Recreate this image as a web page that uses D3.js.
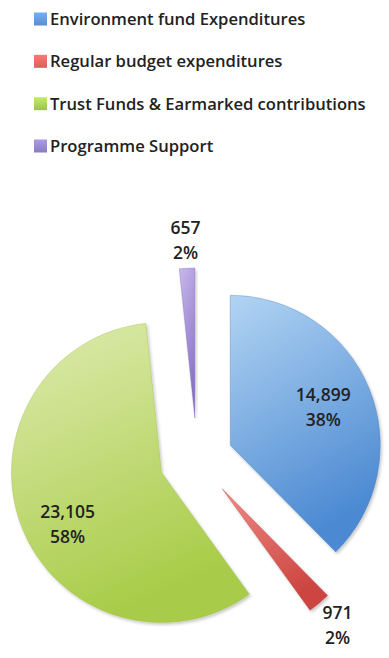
<!DOCTYPE html>
<html>
<head>
<meta charset="utf-8">
<script src="https://cdn.jsdelivr.net/npm/d3@7"></script>
<style>
  html, body { margin: 0; padding: 0; background: #ffffff; }
  svg { display: block; }
  text { font-family: "Open Sans", "Noto Sans", sans-serif; fill: #222222; font-weight: 600; }
</style>
</head>
<body>
<svg id="chart" width="389" height="658"></svg>
<script>
// Expenditure breakdown (thousands)
const categories = [
  "Environment fund Expenditures",
  "Regular budget expenditures",
  "Trust Funds & Earmarked contributions",
  "Programme Support"
];
const values = [14899, 971, 23105, 657];

// Fill palettes: [light, dark] per category
const palette = [
  ["#b2d4f3", "#4c8ad2"],
  ["#f08a86", "#cc4440"],
  ["#dfebb0", "#a8cc48"],
  ["#c8b8ec", "#8a72c8"]
];
const legendColors = ["#5b8dcb", "#d9605c", "#9cc152", "#8a7cc0"];

// Layout settings
const W = 389, H = 658;
const cx = 197, cy = 459, R = 150;
const explode = [36, 39, 38, 41];       // slice pull-out distance
const labelInside = [true, false, true, false];
const labelNudge = [[0, 0], [0, 0], [0, 16], [0, 0]];

const svg = d3.select("#chart");
const defs = svg.append("defs");

palette.forEach((p, i) => {
  const g = defs.append("linearGradient")
    .attr("id", "fill" + i)
    .attr("x1", "0").attr("y1", "0").attr("x2", "0.35").attr("y2", "1");
  g.append("stop").attr("offset", "0%").attr("stop-color", p[0]);
  g.append("stop").attr("offset", "100%").attr("stop-color", p[1]);

  const lg = defs.append("linearGradient")
    .attr("id", "leg" + i)
    .attr("x1", "0").attr("y1", "0").attr("x2", "0").attr("y2", "1");
  lg.append("stop").attr("offset", "0%").attr("stop-color", d3.color(legendColors[i]).brighter(0.6));
  lg.append("stop").attr("offset", "100%").attr("stop-color", legendColors[i]);
});

// soft bevel shadow
const f = defs.append("filter").attr("id", "soft")
  .attr("x", "-10%").attr("y", "-10%").attr("width", "130%").attr("height", "130%");
f.append("feDropShadow").attr("dx", 1.5).attr("dy", 2).attr("stdDeviation", 1.8)
  .attr("flood-color", "#000").attr("flood-opacity", 0.22);

// ---- Legend ----
const legend = svg.append("g").attr("class", "legend");
const legendY = d3.scalePoint().domain(d3.range(categories.length)).range([19, 146]);
categories.forEach((c, i) => {
  const y = legendY(i);
  legend.append("rect")
    .attr("x", 34).attr("y", y - 6.5)
    .attr("width", 13).attr("height", 13)
    .attr("fill", `url(#leg${i})`);
  legend.append("text")
    .attr("x", 50).attr("y", y + 6)
    .attr("font-size", 16.6)
    .text(c);
});

// ---- Pie ----
const total = d3.sum(values);
const pie = d3.pie().sort(null).startAngle(0).endAngle(2 * Math.PI);
const arcs = pie(values);
const arc = d3.arc().innerRadius(0).outerRadius(R);
const fmt = d3.format(",");

const polar = (a, r) => [r * Math.sin(a), -r * Math.cos(a)];

const pieG = svg.append("g").attr("transform", `translate(${cx},${cy})`);

arcs.forEach((d, i) => {
  const mid = (d.startAngle + d.endAngle) / 2;
  const [ox, oy] = polar(mid, explode[i]);
  const g = pieG.append("g").attr("transform", `translate(${ox},${oy})`);
  g.append("path")
    .attr("d", arc(d))
    .attr("fill", `url(#fill${i})`)
    .attr("stroke", d3.color(palette[i][1]).darker(0.3))
    .attr("stroke-opacity", 0.35)
    .attr("stroke-width", 1)
    .attr("filter", "url(#soft)");

  const lr = labelInside[i] ? R * 0.67 : R * 1.19;
  const [lx, ly] = polar(mid, lr);
  const tx = lx + labelNudge[i][0];
  const ty = ly + labelNudge[i][1];
  const t = g.append("text")
    .attr("text-anchor", "middle")
    .attr("font-size", 17.5);
  t.append("tspan").attr("x", tx).attr("y", ty - 12.5 + 6.2).text(fmt(d.data));
  t.append("tspan").attr("x", tx).attr("y", ty + 12.5 + 6.2)
    .text(Math.round(d.data / total * 100) + "%");
});
</script>
</body>
</html>
